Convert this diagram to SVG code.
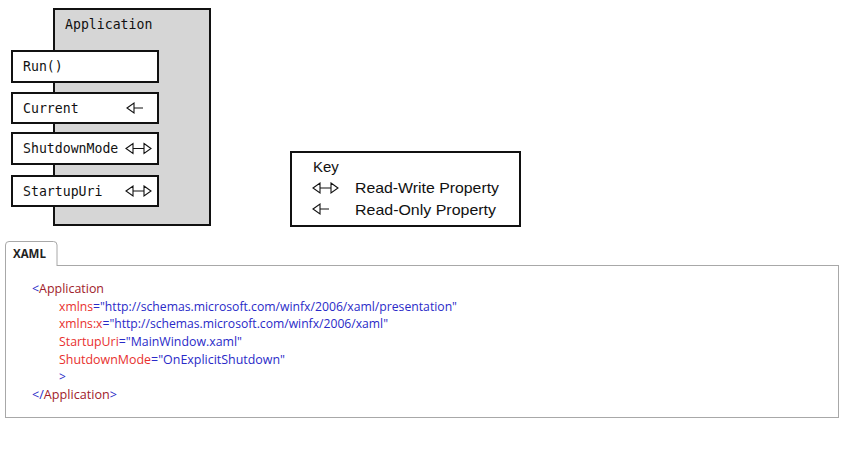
<svg xmlns="http://www.w3.org/2000/svg" width="846" height="454" viewBox="0 0 846 454">
<style>
.mono{font-family:"DejaVu Sans Mono","Liberation Mono",monospace;font-size:13.2px;fill:#111}
.box{fill:#fff;stroke:#111;stroke-width:2}
.glyph{fill:none;stroke:#111;stroke-width:1.1;stroke-linejoin:miter}
.sans{font-family:"Liberation Sans",Arial,sans-serif;font-size:15px;fill:#111}
.code{font-family:"Open Sans","Noto Sans",sans-serif;font-size:12px}
.tag{fill:#a0202a}
.attr{fill:#e8302e}
.val{fill:#2a2ac8}
</style>
<defs>
<g id="ro"><path class="glyph" d="M0,0 L7,-5 L7,5 Z M7,0 H16"/></g>
<g id="rw"><path class="glyph" d="M0,0 L7,-5 L7,5 Z M7,0 H18 M18,-5 L25,0 L18,5 Z"/></g>
</defs>
<rect width="846" height="454" fill="#fff"/>

<g id="application">
<rect x="54" y="9" width="156" height="216" fill="#d6d6d6" stroke="#111" stroke-width="2"/>
<text class="mono" x="65" y="29">Application</text>
</g>
<g id="run">
<rect class="box" x="12" y="51" width="146" height="31"/>
<text class="mono" x="23" y="71">Run()</text>
</g>
<g id="current">
<rect class="box" x="12" y="93" width="146" height="30"/>
<text class="mono" x="23" y="113">Current</text>
<use href="#ro" x="127" y="108"/>
</g>
<g id="shutdownmode">
<rect class="box" x="12" y="133" width="146" height="31"/>
<text class="mono" x="23" y="153">ShutdownMode</text>
<use href="#rw" x="126" y="148.5"/>
</g>
<g id="startupuri">
<rect class="box" x="12" y="176" width="146" height="30"/>
<text class="mono" x="23" y="196">StartupUri</text>
<use href="#rw" x="126" y="191"/>
</g>

<g id="key">
<rect x="291" y="152" width="229" height="74" fill="#fff" stroke="#111" stroke-width="2"/>
<text class="sans" x="313" y="172">Key</text>
<use href="#rw" x="313" y="188"/>
<text class="sans" x="355" y="193" textLength="144" lengthAdjust="spacingAndGlyphs">Read-Write Property</text>
<use href="#ro" x="313" y="209"/>
<text class="sans" x="355" y="215" textLength="141" lengthAdjust="spacingAndGlyphs">Read-Only Property</text>
</g>

<g id="xaml-panel">
<rect x="5.5" y="265.5" width="833" height="152" fill="#fff" stroke="#a8a8a8" stroke-width="1"/>
<path d="M5.5,266 V245 Q5.5,241.5 9,241.5 H53.5 Q57,241.5 57,245 V266" fill="#fff" stroke="#a8a8a8" stroke-width="1"/>
<text x="13" y="258" style="font-family:'Open Sans','Liberation Sans',sans-serif;font-size:11.5px;font-weight:bold;fill:#222">XAML</text>
<text class="code" x="32" y="293" textLength="72" lengthAdjust="spacingAndGlyphs"><tspan class="val">&lt;</tspan><tspan class="tag">Application</tspan></text>
<text class="code" x="59" y="311" textLength="398" lengthAdjust="spacingAndGlyphs"><tspan class="attr">xmlns</tspan><tspan class="val">="http://schemas.microsoft.com/winfx/2006/xaml/presentation"</tspan></text>
<text class="code" x="59" y="328" textLength="329" lengthAdjust="spacingAndGlyphs"><tspan class="attr">xmlns:x</tspan><tspan class="val">="http://schemas.microsoft.com/winfx/2006/xaml"</tspan></text>
<text class="code" x="59" y="346" textLength="183" lengthAdjust="spacingAndGlyphs"><tspan class="attr">StartupUri</tspan><tspan class="val">="MainWindow.xaml"</tspan></text>
<text class="code" x="59" y="364" textLength="226" lengthAdjust="spacingAndGlyphs"><tspan class="attr">ShutdownMode</tspan><tspan class="val">="OnExplicitShutdown"</tspan></text>
<text class="code val" x="59" y="381">&gt;</text>
<text class="code" x="32" y="399" textLength="85" lengthAdjust="spacingAndGlyphs"><tspan class="val">&lt;/</tspan><tspan class="tag">Application</tspan><tspan class="val">&gt;</tspan></text>
</g>
</svg>
